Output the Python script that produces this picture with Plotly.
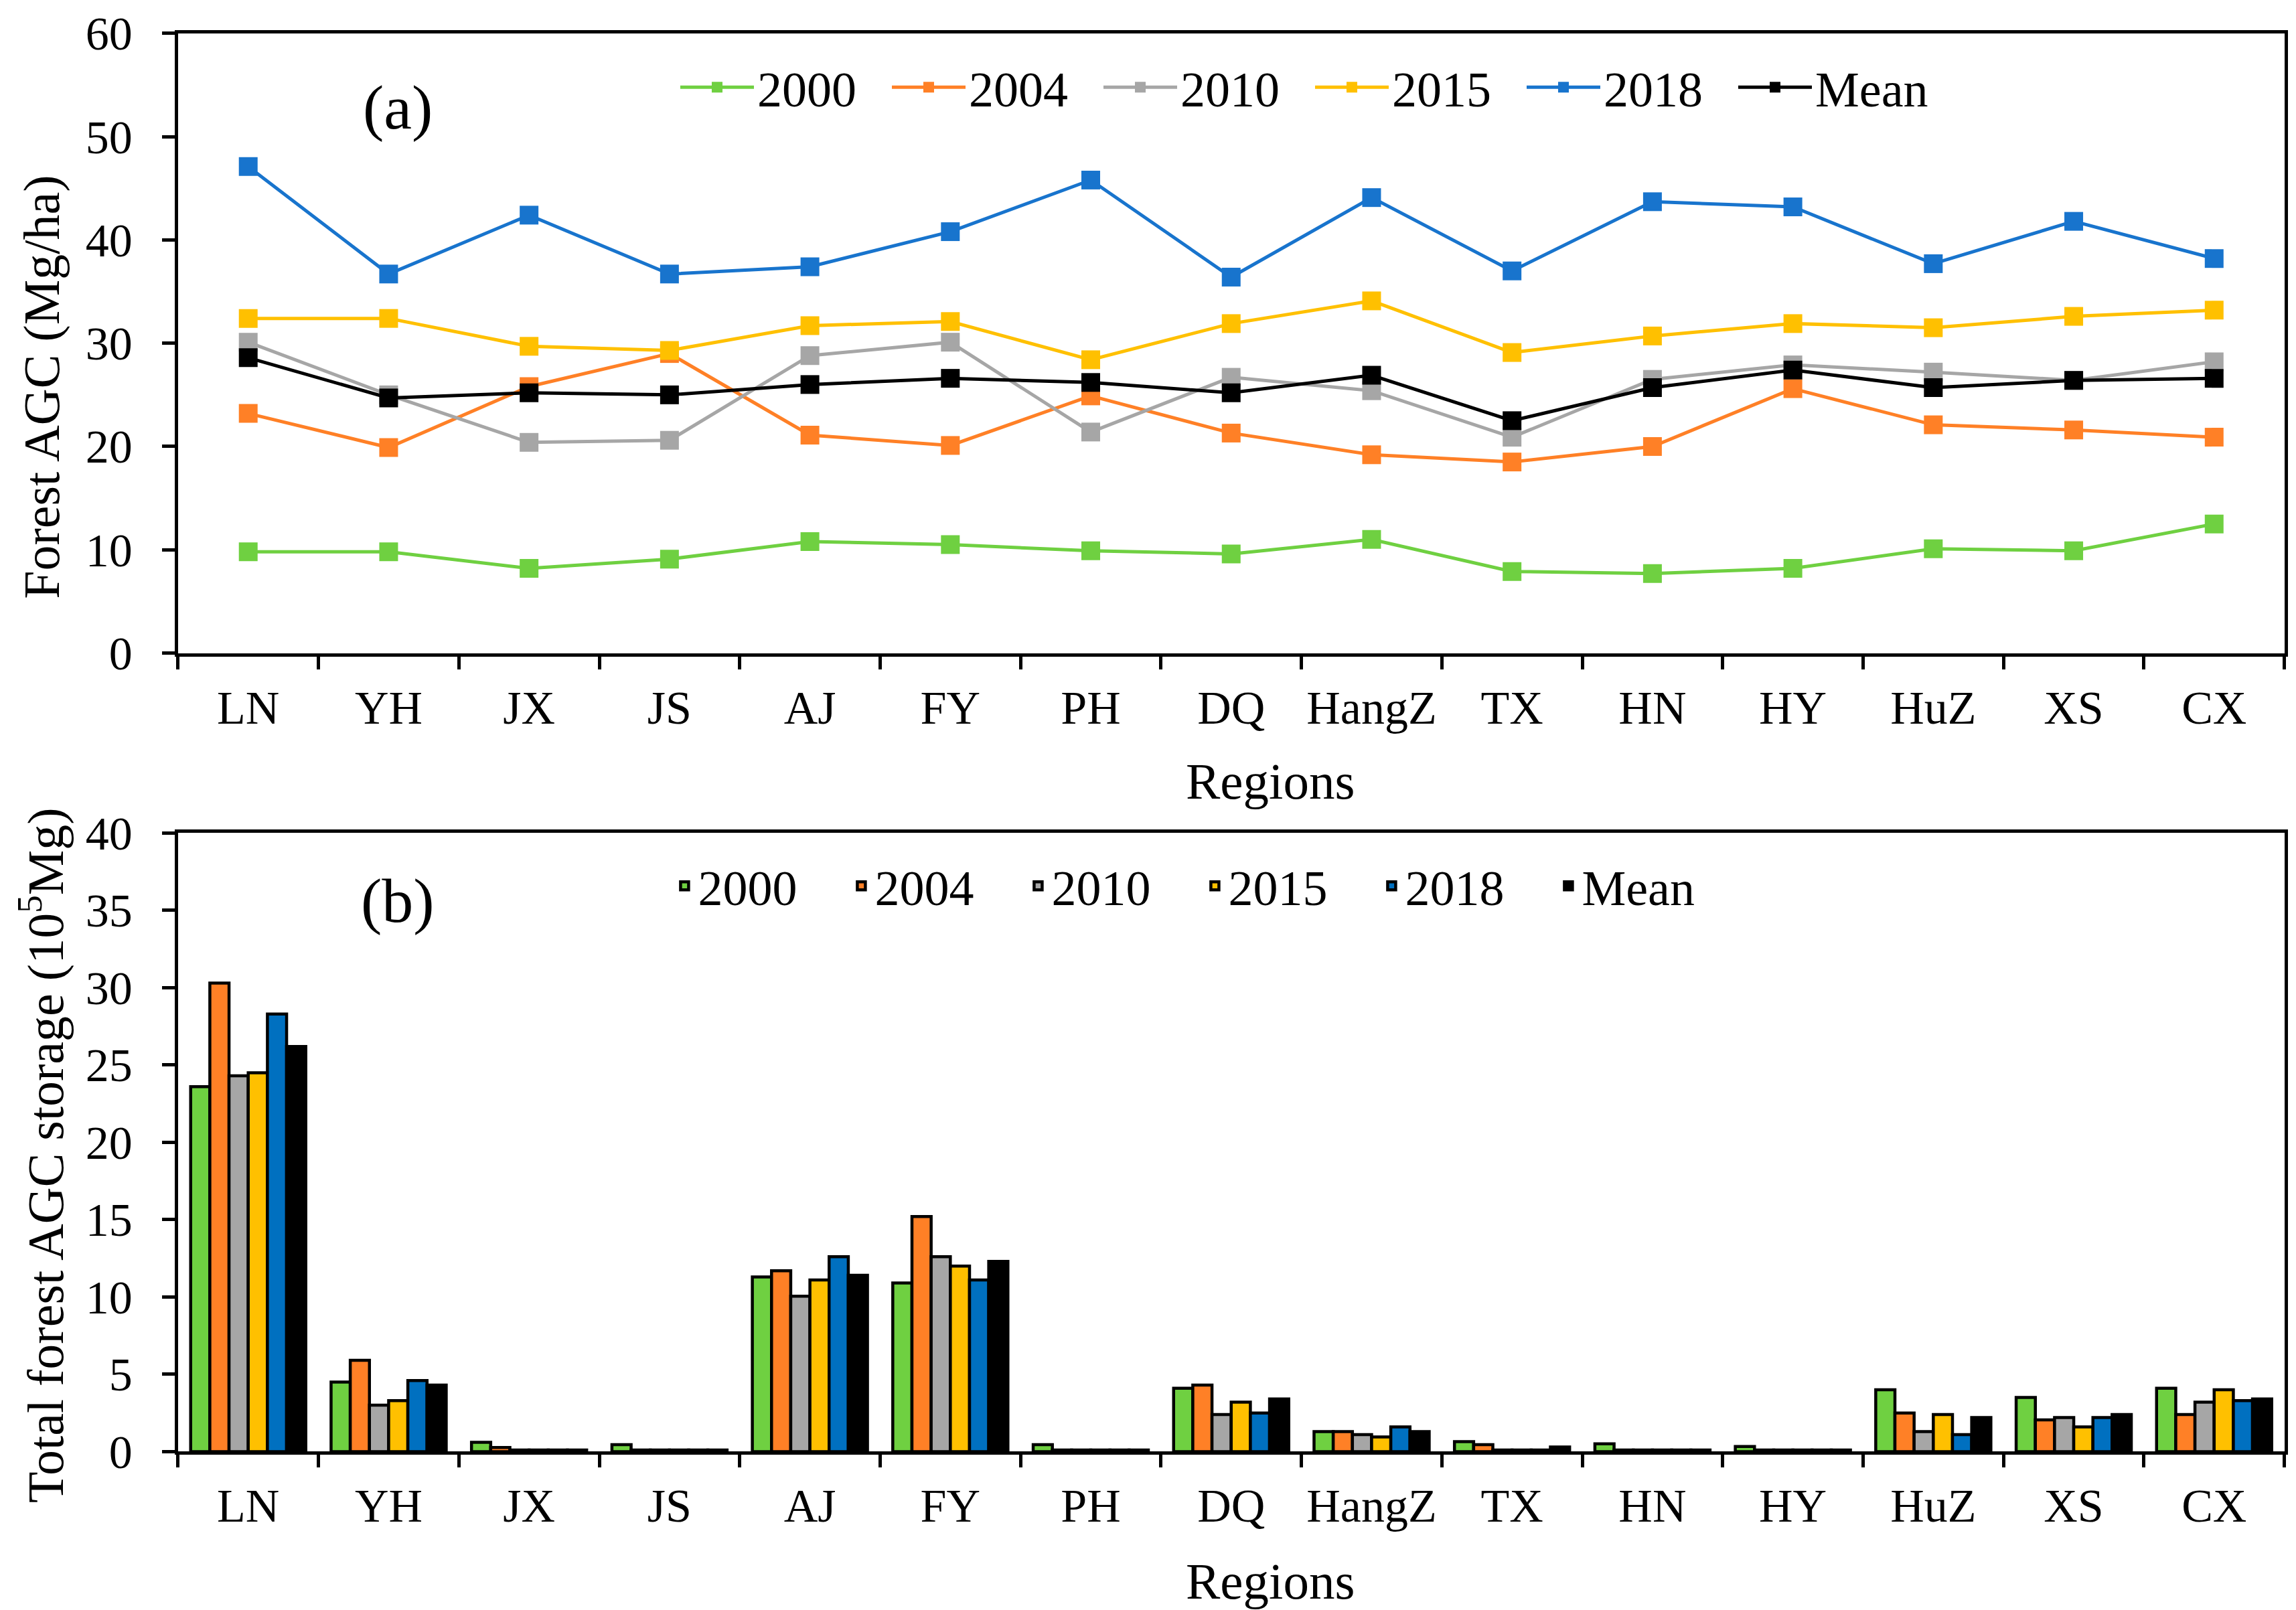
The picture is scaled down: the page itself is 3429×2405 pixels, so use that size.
import plotly.graph_objects as go

regions = ["LN", "YH", "JX", "JS", "AJ", "FY", "PH", "DQ", "HangZ", "TX", "HN", "HY", "HuZ", "XS", "CX"]
series_names = ["2000", "2004", "2010", "2015", "2018", "Mean"]

# Panel (a): Forest AGC density (Mg/ha)
agc_2000 = [9.8, 9.8, 8.2, 9.1, 10.8, 10.5, 9.9, 9.6, 11.0, 7.9, 7.7, 8.2, 10.1, 9.9, 12.5]
agc_2004 = [23.2, 19.9, 25.8, 29.0, 21.1, 20.1, 24.9, 21.3, 19.2, 18.5, 20.0, 25.6, 22.1, 21.6, 20.9]
agc_2010 = [30.1, 25.0, 20.4, 20.6, 28.8, 30.1, 21.4, 26.7, 25.4, 20.9, 26.5, 27.9, 27.2, 26.4, 28.2]
agc_2015 = [32.4, 32.4, 29.7, 29.3, 31.7, 32.1, 28.4, 31.9, 34.1, 29.1, 30.7, 31.9, 31.5, 32.6, 33.2]
agc_2018 = [47.1, 36.7, 42.4, 36.7, 37.4, 40.8, 45.8, 36.4, 44.1, 37.0, 43.7, 43.2, 37.7, 41.8, 38.2]
agc_mean = [28.6, 24.7, 25.2, 25.0, 26.0, 26.6, 26.2, 25.2, 26.9, 22.5, 25.7, 27.4, 25.7, 26.4, 26.6]

# Panel (b): Total forest AGC storage (10^5 Mg)
tot_2000 = [23.6, 4.5, 0.6, 0.45, 11.3, 10.9, 0.45, 4.1, 1.3, 0.65, 0.5, 0.33, 4.0, 3.5, 4.1]
tot_2004 = [30.3, 5.9, 0.27, 0.1, 11.7, 15.2, 0.1, 4.3, 1.3, 0.45, 0.1, 0.1, 2.5, 2.05, 2.4]
tot_2010 = [24.3, 3.0, 0.1, 0.1, 10.05, 12.6, 0.1, 2.4, 1.1, 0.1, 0.1, 0.1, 1.3, 2.2, 3.2]
tot_2015 = [24.5, 3.3, 0.1, 0.1, 11.1, 12.0, 0.1, 3.2, 0.95, 0.1, 0.1, 0.1, 2.4, 1.6, 4.0]
tot_2018 = [28.3, 4.6, 0.1, 0.1, 12.6, 11.1, 0.1, 2.5, 1.6, 0.1, 0.1, 0.1, 1.1, 2.2, 3.3]
tot_mean = [26.2, 4.3, 0.1, 0.1, 11.4, 12.3, 0.1, 3.4, 1.3, 0.3, 0.1, 0.1, 2.2, 2.4, 3.4]

line_colors = ["#6FD041", "#FF8026", "#A6A6A6", "#FFC000", "#1874CD", "#000000"]
bar_colors = ["#6FD041", "#FF8026", "#A6A6A6", "#FFC000", "#0070C0", "#000000"]

FONT = "Liberation Serif"

fig = go.Figure()

agc_series = [agc_2000, agc_2004, agc_2010, agc_2015, agc_2018, agc_mean]
for name, vals, col in zip(series_names, agc_series, line_colors):
    fig.add_trace(go.Scatter(
        x=regions, y=vals, name=name, mode="lines+markers",
        line=dict(color=col, width=5),
        marker=dict(symbol="square", size=28, color=col),
        xaxis="x", yaxis="y", legend="legend",
    ))

tot_series = [tot_2000, tot_2004, tot_2010, tot_2015, tot_2018, tot_mean]
for name, vals, col in zip(series_names, tot_series, bar_colors):
    fig.add_trace(go.Bar(
        x=regions, y=vals, name=name,
        marker=dict(color=col, line=dict(color="#000000", width=4.5)),
        xaxis="x2", yaxis="y2", legend="legend2",
    ))

axis_common = dict(
    showline=True, linecolor="#000000", linewidth=5, mirror=True,
    ticks="outside", ticklen=19, tickwidth=5, tickcolor="#000000",
    showgrid=False, zeroline=False, automargin=False,
    tickfont=dict(family=FONT, size=70, color="#000000"),
)

xdom = [0.0752, 0.9926]
txt = dict(family=FONT, color="#000000")
fig.update_layout(
    width=3429, height=2405,
    paper_bgcolor="#FFFFFF", plot_bgcolor="#FFFFFF",
    margin=dict(l=0, r=0, t=0, b=0, autoexpand=False),
    barmode="group", bargap=0.18, bargroupgap=0,
    font=dict(family=FONT, color="#000000"),
    xaxis=dict(domain=xdom, anchor="y", tickson="boundaries", range=[-0.5, 14.5], tickangle=0,
               ticklabelstandoff=16, **axis_common),
    yaxis=dict(domain=[0.5977, 0.9826], anchor="x", range=[0, 60], dtick=10, ticklabelstandoff=30, **axis_common),
    xaxis2=dict(domain=xdom, anchor="y2", tickson="boundaries", range=[-0.5, 14.5], tickangle=0,
                ticklabelstandoff=16, **axis_common),
    yaxis2=dict(domain=[0.1017, 0.4859], anchor="x2", range=[0, 40], dtick=5, ticklabelstandoff=30, **axis_common),
    legend=dict(x=0.2925, y=0.949, xanchor="left", yanchor="middle", orientation="h",
                font=dict(family=FONT, size=74, color="#000000"), bgcolor="rgba(0,0,0,0)",
                entrywidth=191, itemwidth=110),
    legend2=dict(x=0.290, y=0.453, xanchor="left", yanchor="middle", orientation="h",
                 font=dict(family=FONT, size=74, color="#000000"), bgcolor="rgba(0,0,0,0)",
                 entrywidth=219, itemwidth=30),
    annotations=[
        dict(text="(a)", x=0.171, y=0.937, xref="paper", yref="paper", showarrow=False,
             xanchor="center", yanchor="middle", font=dict(size=94, **txt)),
        dict(text="(b)", x=0.171, y=0.444, xref="paper", yref="paper", showarrow=False,
             xanchor="center", yanchor="middle", font=dict(size=94, **txt)),
        dict(text="Regions", x=0.551, y=0.518, xref="paper", yref="paper", showarrow=False,
             xanchor="center", yanchor="middle", font=dict(size=77, **txt)),
        dict(text="Regions", x=0.551, y=0.021, xref="paper", yref="paper", showarrow=False,
             xanchor="center", yanchor="middle", font=dict(size=77, **txt)),
        dict(text="Forest AGC (Mg/ha)", x=0.016, y=0.763, xref="paper", yref="paper", showarrow=False,
             xanchor="center", yanchor="middle", textangle=-90, font=dict(size=76, **txt)),
        dict(text="Total forest AGC storage (10<sup>5</sup>Mg)", x=0.016, y=0.286, xref="paper", yref="paper",
             xanchor="center", yanchor="middle", showarrow=False, textangle=-90, font=dict(size=76, **txt)),
    ],
)

fig.write_html("out.html")
